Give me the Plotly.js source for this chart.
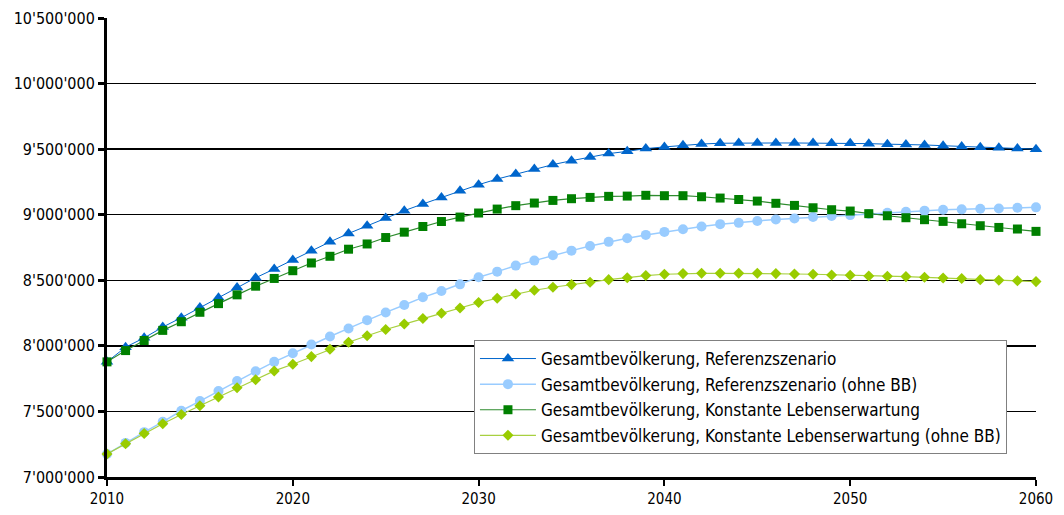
<!DOCTYPE html>
<html>
<head>
<meta charset="utf-8">
<script src="https://cdn.plot.ly/plotly-3.0.1.min.js"></script>
<style>html,body{margin:0;padding:0;background:#fff;}#chart{width:1064px;height:515px;}</style>
</head>
<body>
<div id="chart"></div>
<script>
const years = [];
for (let y = 2010; y <= 2060; y++) years.push(y);

const seriesNames = [
  "Gesamtbevölkerung, Referenzszenario",
  "Gesamtbevölkerung, Referenzszenario (ohne BB)",
  "Gesamtbevölkerung, Konstante Lebenserwartung",
  "Gesamtbevölkerung, Konstante Lebenserwartung (ohne BB)"
];

const referenz = [
  7878000, 7990000, 8061000, 8143000, 8215000, 8292000, 8366000, 8445000, 8519000, 8586000,
  8655000, 8726000, 8793000, 8857000, 8916000, 8974000, 9031000, 9082000, 9132000, 9183000,
  9229000, 9272000, 9310000, 9349000, 9382000, 9412000, 9440000, 9466000, 9483000, 9504000,
  9517000, 9529000, 9539000, 9545000, 9547000, 9547000, 9547000, 9547000, 9547000, 9545000,
  9545000, 9542000, 9538000, 9536000, 9532000, 9526000, 9520000, 9515000, 9511000, 9505000,
  9500000
];

const referenzOhneBB = [
  7175000, 7260000, 7342000, 7421000, 7505000, 7579000, 7656000, 7732000, 7806000, 7878000,
  7944000, 8010000, 8071000, 8133000, 8196000, 8255000, 8311000, 8370000, 8418000, 8469000,
  8523000, 8566000, 8612000, 8650000, 8691000, 8726000, 8762000, 8793000, 8821000, 8846000,
  8869000, 8889000, 8910000, 8928000, 8938000, 8952000, 8964000, 8972000, 8982000, 8990000,
  8997000, 9005000, 9015000, 9023000, 9031000, 9038000, 9041000, 9046000, 9048000, 9053000,
  9056000
];

const konstant = [
  7878000, 7964000, 8041000, 8118000, 8184000, 8256000, 8322000, 8389000, 8455000, 8514000,
  8573000, 8632000, 8683000, 8737000, 8777000, 8826000, 8867000, 8910000, 8948000, 8982000,
  9013000, 9043000, 9069000, 9089000, 9109000, 9122000, 9132000, 9140000, 9142000, 9148000,
  9145000, 9145000, 9137000, 9127000, 9116000, 9104000, 9087000, 9071000, 9053000, 9038000,
  9028000, 9008000, 8992000, 8977000, 8962000, 8949000, 8931000, 8916000, 8903000, 8891000,
  8873000
];

const konstantOhneBB = [
  7175000, 7253000, 7332000, 7406000, 7477000, 7543000, 7610000, 7681000, 7742000, 7809000,
  7860000, 7918000, 7974000, 8028000, 8077000, 8125000, 8166000, 8209000, 8248000, 8289000,
  8330000, 8363000, 8396000, 8424000, 8447000, 8467000, 8485000, 8505000, 8520000, 8536000,
  8546000, 8551000, 8553000, 8553000, 8553000, 8553000, 8551000, 8548000, 8546000, 8541000,
  8538000, 8533000, 8531000, 8528000, 8523000, 8518000, 8513000, 8505000, 8500000, 8497000,
  8490000
];

const FONT = "DejaVu Sans Condensed, Liberation Sans, sans-serif";

function trace(name, y, lineColor, markerColor, symbol, size, lw, group) {
  return {
    type: "scatter", mode: "lines+markers", name: name, x: years, y: y,
    legendgroup: group,
    line: {color: lineColor, width: lw},
    marker: {color: markerColor, symbol: symbol, size: size},
    cliponaxis: false
  };
}

const data = [
  trace(seriesNames[0], referenz, "#0066CC", "#0066CC", "triangle-up", 11, 1, "a"),
  trace(seriesNames[1], referenzOhneBB, "#99CCFF", "#99CCFF", "circle", 10, 1.5, "b"),
  trace(seriesNames[2], konstant, "#2E8B2E", "#008000", "square", 9, 1.2, "c"),
  trace(seriesNames[3], konstantOhneBB, "#A8D040", "#99CC00", "diamond", 8.5, 1.2, "d")
];

const layout = {
  width: 1064, height: 515,
  margin: {l: 107, r: 28, t: 18, b: 38},
  paper_bgcolor: "#ffffff", plot_bgcolor: "#ffffff",
  separators: ".'",
  font: {family: FONT, color: "#000000", size: 15},
  showlegend: true,
  legend: {
    x: 0.395, y: 0.2985, xanchor: "left", yanchor: "top",
    bgcolor: "#ffffff", bordercolor: "#808080", borderwidth: 1,
    font: {family: FONT, size: 17, color: "#000000"},
    traceorder: "grouped", tracegroupgap: 0.5,
    itemwidth: 56
  },
  xaxis: {
    range: [2010, 2060], tickmode: "linear", tick0: 2010, dtick: 10,
    showgrid: false, zeroline: false,
    showline: true, linecolor: "#000000", linewidth: 3,
    ticks: "outside", ticklen: 6, tickwidth: 2, tickcolor: "#000000",
    tickfont: {family: FONT, size: 15, color: "#000000"}
  },
  yaxis: {
    range: [7000000, 10500000], tickmode: "linear", tick0: 7000000, dtick: 500000,
    tickformat: ",d",
    showgrid: true, gridcolor: "#000000", gridwidth: 1.5,
    zeroline: false,
    showline: true, linecolor: "#000000", linewidth: 3,
    ticks: "outside", ticklen: 6, tickwidth: 3, tickcolor: "#000000",
    tickfont: {family: FONT, size: 16, color: "#000000"}
  }
};

Plotly.newPlot("chart", data, layout, {staticPlot: true, displayModeBar: false});
</script>
</body>
</html>
